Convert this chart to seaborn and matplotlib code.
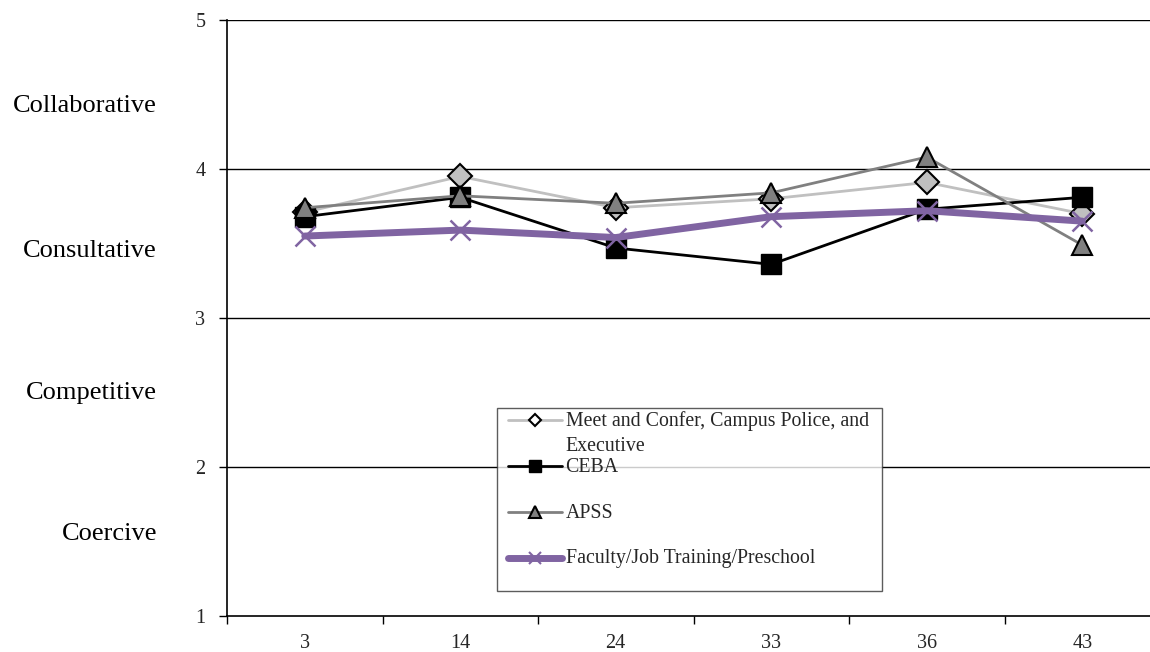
import numpy as np
import pandas as pd
import matplotlib
matplotlib.use("Agg")
import matplotlib.pyplot as plt
import matplotlib.transforms as mtransforms
from matplotlib.lines import Line2D
from matplotlib.legend_handler import HandlerLine2D
import seaborn as sns

# Survey items on the x axis and mean scores per bargaining group
items = ["3", "14", "24", "33", "36", "43"]
meet_confer = [3.71, 3.95, 3.74, 3.80, 3.91, 3.70]
ceba = [3.68, 3.81, 3.47, 3.36, 3.73, 3.81]
apss = [3.74, 3.82, 3.77, 3.84, 4.08, 3.49]
faculty = [3.55, 3.59, 3.54, 3.68, 3.72, 3.65]

series_names = [
    "Meet and Confer, Campus Police, and",
    "CEBA",
    "APSS",
    "Faculty/Job Training/Preschool",
]
series_values = [meet_confer, ceba, apss, faculty]

# Legend entries each take two text lines
legend_labels = [
    "Meet and Confer, Campus Police, and  \nExecutive",
    "CEBA\n ",
    "APSS\n ",
    "Faculty/Job Training/Preschool\n ",
]

# Style bands along the score scale
band_labels = ["Collaborative", "Consultative", "Competitive", "Coercive"]
band_levels = [4.42, 3.45, 2.5, 1.55]

sns.set_theme(style="white")
plt.rcParams["font.family"] = ["Liberation Serif", "DejaVu Serif"]

fig = plt.figure(figsize=(11.5, 6.52), dpi=100)
ax = fig.add_axes([227 / 1150, 36 / 652, 933 / 1150, 596 / 652])

styles = [
    dict(color="#C0C0C0", lw=2.0, marker="D", ms=12, mfc="#C0C0C0", mec="black", mew=1.5),
    dict(color="black", lw=2.0, marker="s", ms=14, mfc="black", mec="black", mew=1.0),
    dict(color="#808080", lw=2.0, marker="^", ms=15, mfc="#808080", mec="black", mew=1.5),
    dict(color="#8064A2", lw=5.0, marker="x", ms=14, mfc="#8064A2", mec="#8064A2", mew=1.8),
]

pos = np.arange(len(items))
for name, vals, st in zip(series_names, series_values, styles):
    df = pd.DataFrame({"pos": pos, "score": vals})
    sns.lineplot(
        data=df, x="pos", y="score", ax=ax,
        color=st["color"], linewidth=st["lw"],
        marker=st["marker"], markersize=st["ms"],
        markerfacecolor=st["mfc"], markeredgecolor=st["mec"],
        markeredgewidth=st["mew"], legend=False, zorder=3,
    )

ax.set_xlim(-0.5, len(items) - 0.5)
ax.set_ylim(1, 5)
ax.set_xlabel("")
ax.set_ylabel("")

# Category boundaries carry the tick marks; labels sit at the centres
ax.set_xticks(np.arange(-0.5, len(items), 1.0))
ax.set_xticklabels([])
ax.set_xticks(pos, minor=True)
ax.set_xticklabels(items, minor=True, fontsize=14.5)
ax.tick_params(axis="x", which="major", direction="out", length=6, width=1, color="black", bottom=True)
ax.tick_params(axis="x", which="minor", length=0, pad=13.3)

ax.set_yticks([1, 2, 3, 4, 5])
ax.set_yticklabels(["1", "2", "3", "4", "5"], fontsize=14.5)
ax.tick_params(axis="y", direction="out", length=6, width=1, color="black", left=True, pad=9.5)

for y in [2, 3, 4, 5]:
    ax.axhline(y, color="black", lw=1.0, zorder=1)

for side in ["top", "right"]:
    ax.spines[side].set_visible(False)
for side in ["left", "bottom"]:
    ax.spines[side].set_color("black")
    ax.spines[side].set_linewidth(1.2)

trans = mtransforms.blended_transform_factory(fig.transFigure, ax.transData)
for lab, lev in zip(band_labels, band_levels):
    ax.text(157 / 1150, lev, lab, transform=trans, ha="right", va="center",
            fontsize=19, color="black")


class FirstLineHandler(HandlerLine2D):
    """Line handle aligned with the first text line and inset from the frame."""

    def __init__(self, dx=5.0, dy=9.5, **kw):
        super().__init__(**kw)
        self.dx = dx
        self.dy = dy

    def create_artists(self, legend, orig_handle, xdescent, ydescent,
                       width, height, fontsize, trans):
        return super().create_artists(
            legend, orig_handle, xdescent - self.dx, ydescent - 2 * self.dy,
            width - self.dx, height, fontsize, trans)


handles = [
    Line2D([], [], color="#C0C0C0", lw=2, marker="D", ms=6, mfc="white", mec="black", mew=1.5),
    Line2D([], [], color="black", lw=2, marker="s", ms=9, mfc="black", mec="black"),
    Line2D([], [], color="#808080", lw=2, marker="^", ms=8, mfc="#808080", mec="black", mew=1.5),
    Line2D([], [], color="#8064A2", lw=5, marker="x", ms=8, mec="#8064A2", mew=1.5),
]
line_spacings = [1.36, 1.36, 1.36, 1.0]
handler_dy = [9.5, 9.5, 9.5, 7.3]

leg = fig.legend(
    handles, legend_labels, loc="upper left",
    bbox_to_anchor=(497 / 1150, 1 - 408 / 652), bbox_transform=fig.transFigure,
    fontsize=14.3, frameon=True, fancybox=False, edgecolor="#333333",
    handlelength=3.07, handletextpad=0.2, labelspacing=0.13,
    borderpad=0.18, borderaxespad=0,
    handler_map={h: FirstLineHandler(dy=d) for h, d in zip(handles, handler_dy)},
)
for t, ls in zip(leg.get_texts(), line_spacings):
    t.set_linespacing(ls)
leg.get_frame().set_linewidth(1.0)

fig.savefig("out.png", dpi=100, facecolor="white")
